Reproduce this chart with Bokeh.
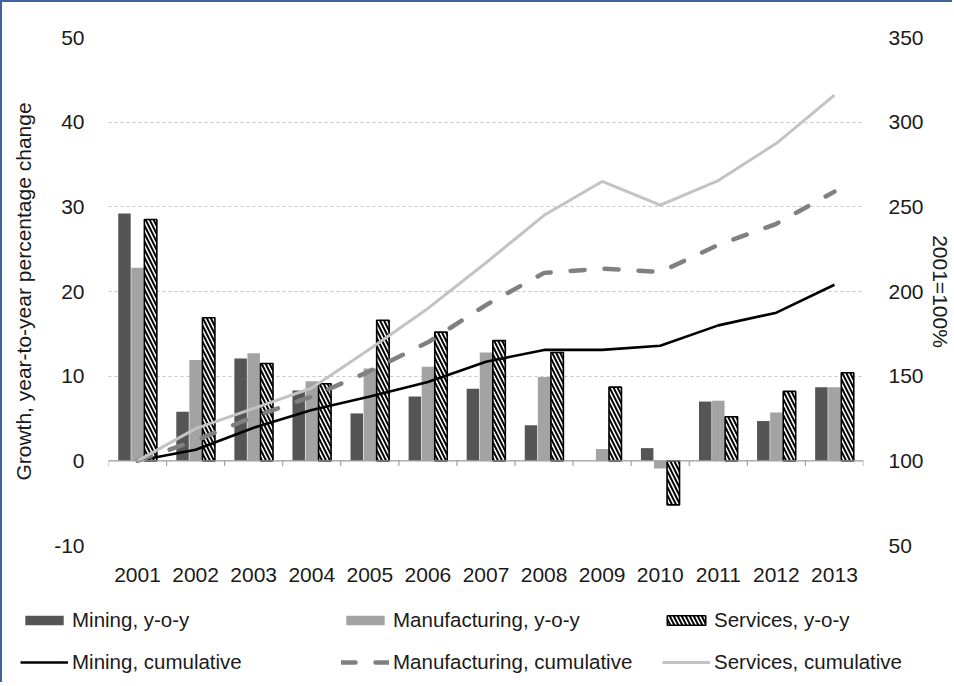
from bokeh.plotting import figure
from bokeh.layouts import column, row
from bokeh.models import (FactorRange, Range1d, LinearAxis, SingleIntervalTicker,
                          ColumnDataSource, Legend, LegendItem, Span)
from bokeh.transform import dodge
from bokeh.embed import file_html
from bokeh.resources import INLINE

# data
years = [str(y) for y in range(2001, 2014)]
mining_yoy = [29.2, 5.8, 12.1, 8.3, 5.6, 7.6, 8.5, 4.2, 0.0, 1.5, 7.0, 4.7, 8.7]
manuf_yoy = [22.8, 11.9, 12.7, 9.4, 10.9, 11.1, 12.8, 9.9, 1.4, -0.9, 7.1, 5.7, 8.7]
serv_yoy = [28.5, 16.9, 11.5, 9.1, 16.6, 15.2, 14.2, 12.8, 8.7, -5.2, 5.2, 8.2, 10.4]
mining_cum = [100, 106.5, 119.5, 130, 138, 146.5, 158.5, 165.5, 165.5, 168, 180, 187.5, 204]
manuf_cum = [100, 112, 126, 138, 153, 170, 192, 211, 213.5, 211.5, 227.5, 240, 259]
serv_cum = [100, 119, 131, 143, 166, 190, 217, 245, 265, 251, 265.5, 287.5, 316]

FONT = "Liberation Sans"
TXT = "#1a1a1a"
BORDER = "2px solid #41649a"

# styles shared by chart glyphs and legend entries
mining_bar = dict(fill_color="#555555", line_color=None)
manuf_bar = dict(fill_color="#a3a3a3", line_color=None)
serv_bar = dict(fill_color="white", line_color="black", line_width=1.6,
                hatch_pattern="\\", hatch_color="black", hatch_weight=2, hatch_scale=8)
mining_line = dict(line_color="black", line_width=2.6)
manuf_line = dict(line_color="#808080", line_width=4.5, line_dash="14 20", line_cap="round")
serv_line = dict(line_color="#c3c3c3", line_width=3)

src = ColumnDataSource(dict(year=years, mining=mining_yoy, manuf=manuf_yoy, serv=serv_yoy,
                            mining_c=mining_cum, manuf_c=manuf_cum, serv_c=serv_cum))

p = figure(width=952, height=589, x_range=FactorRange(*years), y_range=Range1d(-10, 50),
           output_backend="svg", toolbar_location=None,
           min_border_left=106, min_border_right=89, min_border_top=35, min_border_bottom=46)
p.extra_y_ranges = {"cum": Range1d(50, 350)}
p.outline_line_color = None
p.styles = {"border-top": BORDER, "border-left": BORDER}

# grid
p.xgrid.visible = False
p.ygrid.grid_line_color = "#c4c4c4"
p.ygrid.grid_line_dash = "3 3"
p.ygrid.grid_line_width = 1

# left axis
p.yaxis.ticker = SingleIntervalTicker(interval=10, num_minor_ticks=0)
p.yaxis.major_label_overrides = {-10: "-10"}
p.yaxis.axis_label = "Growth, year-to-year percentage change"
p.yaxis.major_label_standoff = 18
p.yaxis.axis_label_standoff = 16
p.yaxis.major_label_text_font_size = "21px"
p.yaxis.axis_label_text_font_size = "21px"

# right axis
ax2 = LinearAxis(y_range_name="cum", ticker=SingleIntervalTicker(interval=50, num_minor_ticks=0),
                 axis_label="2001=100%")
ax2.major_label_standoff = 19
ax2.axis_label_standoff = 2
ax2.major_label_text_font_size = "21px"
ax2.axis_label_text_font_size = "21px"
p.add_layout(ax2, "right")

# bottom axis
p.xaxis.major_label_standoff = 16
p.xaxis.major_label_text_font_size = "21px"

for ax in [p.yaxis[0], ax2, p.xaxis[0]]:
    ax.axis_line_color = None
    ax.major_tick_line_color = None
    ax.minor_tick_line_color = None
    ax.major_label_text_font = FONT
    ax.axis_label_text_font = FONT
    ax.major_label_text_color = TXT
    ax.axis_label_text_color = TXT
    ax.axis_label_text_font_style = "normal"

# bars
w = 0.215
p.vbar(x=dodge("year", -0.225, range=p.x_range), top="mining", width=w, source=src, **mining_bar)
p.vbar(x=dodge("year", 0.0, range=p.x_range), top="manuf", width=w, source=src, **manuf_bar)
p.vbar(x=dodge("year", 0.225, range=p.x_range), top="serv", width=w, source=src, **serv_bar)

# zero axis line with category tick marks
p.add_layout(Span(location=0, dimension="width", line_color="#a0a0a0", line_width=1.2))
p.segment(x0=dodge("year", -0.5, range=p.x_range), x1=dodge("year", -0.5, range=p.x_range),
          y0=0, y1=-0.6, source=src, line_color="#a0a0a0", line_width=1.2)
end_src = ColumnDataSource(dict(year=[years[-1]]))
p.segment(x0=dodge("year", 0.5, range=p.x_range), x1=dodge("year", 0.5, range=p.x_range),
          y0=0, y1=-0.6, source=end_src, line_color="#a0a0a0", line_width=1.2)

# cumulative lines
p.line(x="year", y="mining_c", source=src, y_range_name="cum", **mining_line)
p.line(x="year", y="manuf_c", source=src, y_range_name="cum", **manuf_line)
p.line(x="year", y="serv_c", source=src, y_range_name="cum", **serv_line)

# legend strip below the chart (entries point at off-screen stand-ins)
lg = figure(width=952, height=93, x_range=(0, 1), y_range=(0, 1),
            x_axis_type=None, y_axis_type=None, output_backend="svg", toolbar_location=None,
            min_border=0)
lg.outline_line_color = None
lg.grid.visible = False
lg.styles = {"border-left": BORDER}

off = dict(x=[-5], top=[-5], width=0.1)
offl = dict(x=[-5, -4], y=[-5, -5])
items = [
    ("Mining, y-o-y", lg.vbar(**off, **mining_bar)),
    ("Manufacturing, y-o-y", lg.vbar(**off, **manuf_bar)),
    ("Services, y-o-y", lg.vbar(**off, **serv_bar)),
    ("Mining, cumulative", lg.line(**offl, **mining_line)),
    ("Manufacturing, cumulative", lg.line(**offl, **manuf_line)),
    ("Services, cumulative", lg.line(**offl, **serv_line)),
]
legend = Legend(items=[LegendItem(label=t, renderers=[r]) for t, r in items],
                location=(18, -1), orientation="horizontal", ncols=3)
legend.padding = 0
legend.margin = 0
legend.spacing = 0
legend.border_line_color = None
legend.background_fill_alpha = 0
legend.glyph_width = 48
legend.glyph_height = 12
legend.label_standoff = 4
legend.label_width = 269
legend.label_height = 42
legend.label_text_font = FONT
legend.label_text_font_size = "20.5px"
legend.label_text_color = TXT
lg.add_layout(legend, "center")

layout = column(row(p), row(lg), spacing=0)
open("out.html", "w").write(file_html(layout, INLINE))
